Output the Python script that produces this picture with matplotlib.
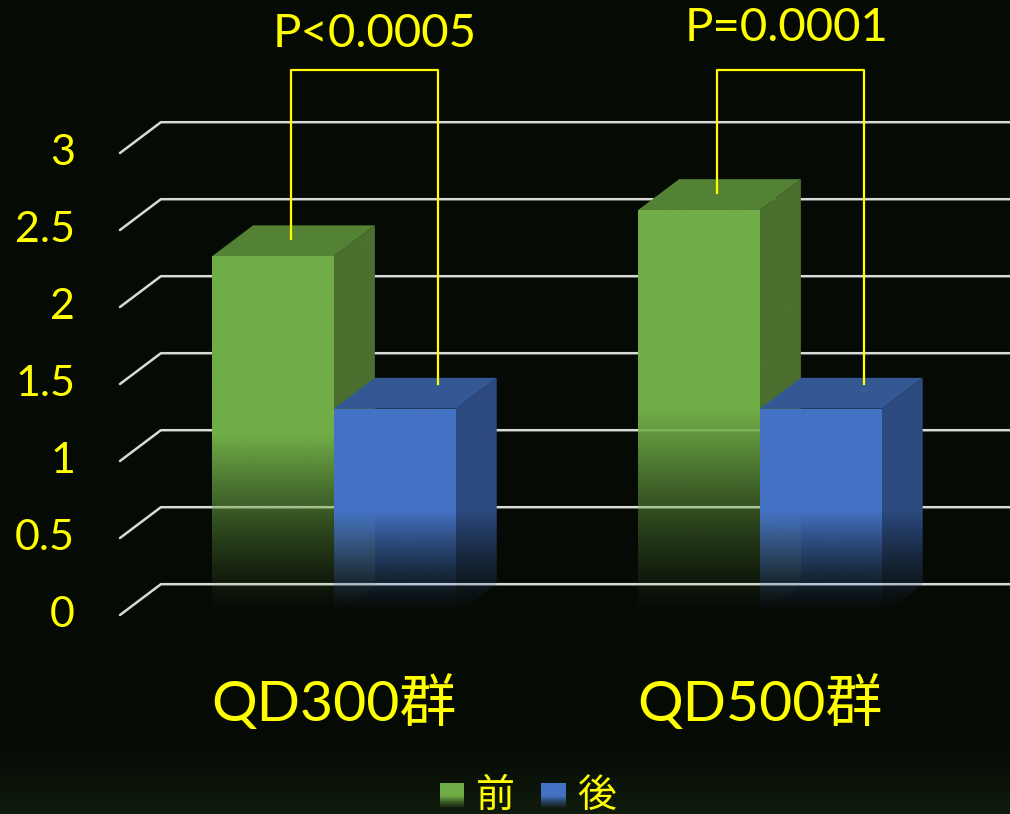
import numpy as np
import matplotlib.pyplot as plt
from matplotlib.patches import Polygon
from matplotlib.colors import to_rgb

# ---------------- data ----------------
categories = ['QD300群', 'QD500群']
series_names = ['前', '後']
before = [2.33, 2.63]
after = [1.34, 1.34]
p_labels = ['P<0.0005', 'P=0.0001']
yticks = [0, 0.5, 1, 1.5, 2, 2.5, 3]
ytick_labels = ['0', '0.5', '1', '1.5', '2', '2.5', '3']

# ---------------- style ----------------
front_colors = ['#70ad47', '#4472c4']
top_colors = ['#548235', '#335894']
side_colors = ['#4b6f2f', '#2c4a7f']
BG = '#060a05'
YEL = '#ffff00'
GRID = '#d9d9d9'
LAT = ['Lato', 'Noto Sans CJK JP', 'DejaVu Sans']
CJK = ['Noto Sans CJK JP', 'DejaVu Sans']

W, H = 1010, 814
fig = plt.figure(figsize=(W / 100, H / 100), dpi=100, facecolor=BG)
ax = fig.add_axes([0, 0, 1, 1])
ax.set_facecolor(BG)

# layout: category spacing & value scale in pixels
PX_CAT, X0_PX, Y0_PX, PX_UNIT = 426.0, 334.0, 615.0, 154.0
ax.set_xlim(-X0_PX / PX_CAT, (W - X0_PX) / PX_CAT)
ax.set_ylim((Y0_PX - H) / PX_UNIT, Y0_PX / PX_UNIT)
ax.axis('off')


def px2d(xp, yp):
    return (xp - X0_PX) / PX_CAT, (Y0_PX - yp) / PX_UNIT


BW = 0.286   # bar width (category units)
DX = 0.096   # depth offset x
DY = 0.20    # depth offset y (value units)
XMAX = ax.get_xlim()[1]

# faint glow at the bottom of the picture
n = 64
gy = np.linspace(0, 1, n)[:, None]
glow = np.zeros((n, 2, 4))
glow[..., :3] = to_rgb('#14210f')
glow[..., 3] = (gy ** 1.5) * np.ones((1, 2)) * 0.8
gx0, gtop = px2d(0, 730)
gx1, gbot = px2d(W, H)
ax.imshow(glow, extent=[gx0, gx1, gbot, gtop], origin='upper', aspect='auto',
          zorder=0, interpolation='bilinear')

# perspective gridlines
xl = px2d(120, 0)[0]
for v in yticks:
    ax.plot([xl, xl + DX, XMAX], [v, v + DY, v + DY], color=GRID, lw=1.8,
            solid_capstyle='round', zorder=1)
tx_tick = px2d(75, 0)[0]
for v, lab in zip(yticks, ytick_labels):
    ax.text(tx_tick, v, lab, ha='right', va='center', color=YEL, fontsize=31,
            family=LAT, zorder=5)


def grad_face(verts, color, vmax, z):
    verts = np.asarray(verts)
    poly = Polygon(verts, closed=True, transform=ax.transData)
    xmin, ymin = verts.min(axis=0)
    xmx, ymx = verts.max(axis=0)
    m = 200
    yy = np.linspace(ymx, ymin, m)[:, None]
    frac = np.clip(yy / vmax, 0, 1)
    alpha = np.clip(frac / 0.5, 0, 1) ** 1.3
    img = np.zeros((m, 2, 4))
    img[..., :3] = to_rgb(color)
    img[..., 3] = alpha * np.ones((1, 2))
    im = ax.imshow(img, extent=[xmin, xmx, ymin, ymx], origin='upper',
                   aspect='auto', zorder=z, interpolation='bilinear')
    im.set_clip_path(poly)


def bar3d(x0, v, k, z):
    x1 = x0 + BW
    side = [(x1, 0), (x1 + DX, DY), (x1 + DX, v + DY), (x1, v)]
    top = [(x0, v), (x0 + DX, v + DY), (x1 + DX, v + DY), (x1, v)]
    front = [(x0, 0), (x1, 0), (x1, v), (x0, v)]
    grad_face(side, side_colors[k], v, z)
    ax.add_patch(Polygon(top, closed=True, fc=top_colors[k], ec='none', zorder=z + 0.1))
    grad_face(front, front_colors[k], v, z + 0.2)


label_dx = [0.025, -0.008]
label_y = [3.77, 3.81]
for i in range(len(categories)):
    bar3d(i - BW, before[i], 0, 2 + i)
    bar3d(i, after[i], 1, 2.5 + i)

    # significance bracket
    lx = i - BW / 2 + DX / 2 - 0.005
    rx = i + BW / 2 + DX / 2 + 0.052
    ly = before[i] + DY / 2 + 0.01
    ry = after[i] + DY / 2 + 0.06
    topy = 3.54
    ax.plot([lx, lx, rx, rx], [ly, topy, topy, ry], color=YEL, lw=1.6, zorder=6)
    ax.text((lx + rx) / 2 + label_dx[i], label_y[i], p_labels[i],
            ha='center', va='center', color=YEL, fontsize=34, family=LAT, zorder=6)

    ax.text(i, -0.57, categories[i], ha='center', va='center', color=YEL,
            fontsize=41, family=LAT, zorder=6)

# legend
leg_sq = [(440, 464), (541, 565)]
leg_tx = [476, 577]
for k in range(2):
    xa, ya = px2d(leg_sq[k][0], 807)
    xb, yb = px2d(leg_sq[k][1], 783)
    m = 50
    t = np.linspace(1, 0, m)[:, None]
    a = np.clip(t / 0.45, 0, 1) ** 1.3
    img = np.zeros((m, 2, 4))
    img[..., :3] = to_rgb(front_colors[k])
    img[..., 3] = 0.15 + 0.85 * a * np.ones((1, 2))
    ax.imshow(img, extent=[xa, xb, ya, yb], origin='upper', aspect='auto',
              zorder=6, interpolation='bilinear')
    tx, ty = px2d(leg_tx[k], 796)
    ax.text(tx, ty, series_names[k], ha='left', va='center', color=YEL,
            fontsize=28, family=CJK, zorder=6)

ax.set_xlim(-X0_PX / PX_CAT, (W - X0_PX) / PX_CAT)
ax.set_ylim((Y0_PX - H) / PX_UNIT, Y0_PX / PX_UNIT)
fig.savefig('out.png', dpi=100, facecolor=BG)
